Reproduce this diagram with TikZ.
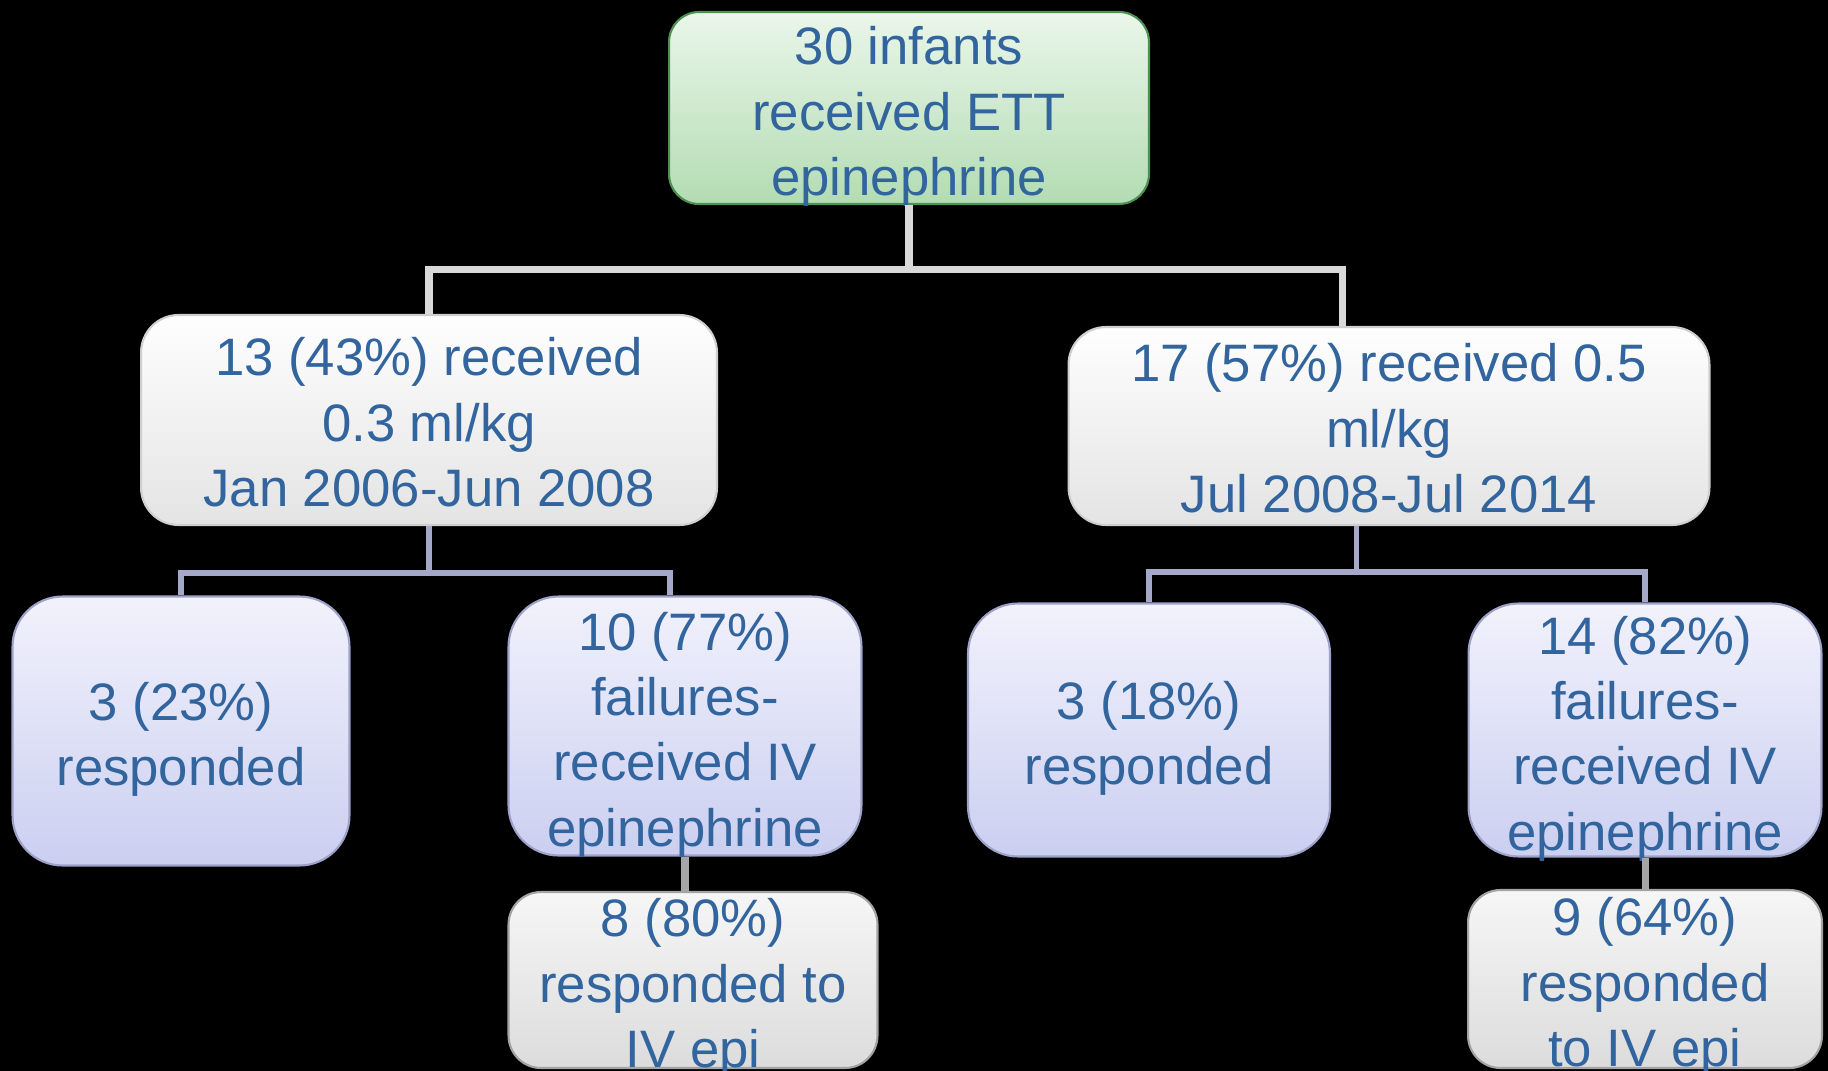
\documentclass[tikz,border=0pt]{standalone}
\usepackage{fontspec}
\setmainfont{Liberation Sans}
\definecolor{txtblue}{RGB}{50,101,158}
\definecolor{rootfillA}{RGB}{234,246,234}
\definecolor{rootfillB}{RGB}{179,220,179}
\definecolor{rootline}{RGB}{79,145,80}
\definecolor{dosefillA}{RGB}{254,254,254}
\definecolor{dosefillB}{RGB}{228,228,228}
\definecolor{doseline}{RGB}{207,207,207}
\definecolor{outfillA}{RGB}{242,242,252}
\definecolor{outfillB}{RGB}{203,207,240}
\definecolor{outline}{RGB}{158,162,200}
\definecolor{ivfillA}{RGB}{246,246,246}
\definecolor{ivfillB}{RGB}{220,220,220}
\definecolor{ivline}{RGB}{163,163,163}
\definecolor{toplinkc}{RGB}{217,217,217}
\definecolor{midlinkc}{RGB}{165,168,200}
\definecolor{lowlinkc}{RGB}{166,166,166}
\begin{document}
\begin{tikzpicture}[x=0.02cm, y=-0.02cm,
    rootbox/.style={draw=rootline, line width=1.2pt, rounded corners=0.6cm, top color=rootfillA, bottom color=rootfillB, inner sep=0pt},
    dosebox/.style={draw=doseline, line width=1.2pt, rounded corners=0.75cm, top color=dosefillA, bottom color=dosefillB, inner sep=0pt},
    outbox/.style={draw=outline, line width=1.2pt, rounded corners=1cm, top color=outfillA, bottom color=outfillB, inner sep=0pt},
    ivbox/.style={draw=ivline, line width=1.2pt, rounded corners=0.65cm, top color=ivfillA, bottom color=ivfillB, inner sep=0pt},
    txt/.style={text=txtblue, align=center, inner sep=0pt, yshift=-0.17cm, font=\fontsize{30}{37.2}\selectfont},
    toplink/.style={draw=toplinkc, line width=4pt},
    midlink/.style={draw=midlinkc, line width=3.3pt},
    lowlink/.style={draw=lowlinkc, line width=4pt}]
    \fill[black] (0,0) rectangle (1828,1071);
    \useasboundingbox (0,0) rectangle (1828,1071);

    % boxes
    \node[rootbox, minimum width=9.6cm, minimum height=3.84cm] (root) at (909,108) {};
    \node[dosebox, minimum width=11.52cm, minimum height=4.2cm] (dlow) at (429,420) {};
    \node[dosebox, minimum width=12.82cm, minimum height=3.96cm] (dhigh) at (1389,426) {};
    \node[outbox, minimum width=6.74cm, minimum height=5.38cm] (resplow) at (181,731) {};
    \node[outbox, minimum width=7.06cm, minimum height=5.18cm] (faillow) at (685,726) {};
    \node[outbox, minimum width=7.24cm, minimum height=5.06cm] (resphigh) at (1149,730) {};
    \node[outbox, minimum width=7.06cm, minimum height=5.06cm] (failhigh) at (1645,730) {};
    \node[ivbox, minimum width=7.38cm, minimum height=3.52cm] (ivlow) at (693,980) {};
    \node[ivbox, minimum width=7.08cm, minimum height=3.56cm] (ivhigh) at (1645,979) {};

    % texts
    \node[txt] (root-t) at (root) {30 infants\\received ETT\\epinephrine};
    \node[txt, yshift=0.12cm] (dlow-t) at (dlow) {13 (43\%) received\\0.3 ml/kg\\Jan 2006-Jun 2008};
    \node[txt, yshift=0.12cm] (dhigh-t) at (dhigh) {17 (57\%) received 0.5\\ml/kg\\Jul 2008-Jul 2014};
    \node[txt] (resplow-t) at (resplow) {3 (23\%)\\responded};
    \node[txt] (faillow-t) at (faillow) {10 (77\%)\\failures-\\received IV\\epinephrine};
    \node[txt] (resphigh-t) at (resphigh) {3 (18\%)\\responded};
    \node[txt] (failhigh-t) at (failhigh) {14 (82\%)\\failures-\\received IV\\epinephrine};
    \node[txt] (ivlow-t) at (ivlow) {8 (80\%)\\responded to\\IV epi};
    \node[txt] (ivhigh-t) at (ivhigh) {9 (64\%)\\responded\\to IV epi};

    % links
    \draw[toplink] (root.south) -- ++(0,64) -| (dlow.north);
    \draw[toplink] (root.south) -- ++(0,64) -| ([xshift=-0.94cm]dhigh.north);
    \draw[midlink] (dlow.south) -- ++(0,47) -| (resplow.north);
    \draw[midlink] (dlow.south) -- ++(0,47) -| ([xshift=-0.3cm]faillow.north);
    \draw[midlink] ([xshift=-0.65cm]dhigh.south) -- ++(0,46) -| (resphigh.north);
    \draw[midlink] ([xshift=-0.65cm]dhigh.south) -- ++(0,46) -| (failhigh.north);
    \draw[lowlink] (faillow.south) -- (faillow.south |- ivlow.north);
    \draw[lowlink] (failhigh.south) -- (failhigh.south |- ivhigh.north);
\end{tikzpicture}
\end{document}
